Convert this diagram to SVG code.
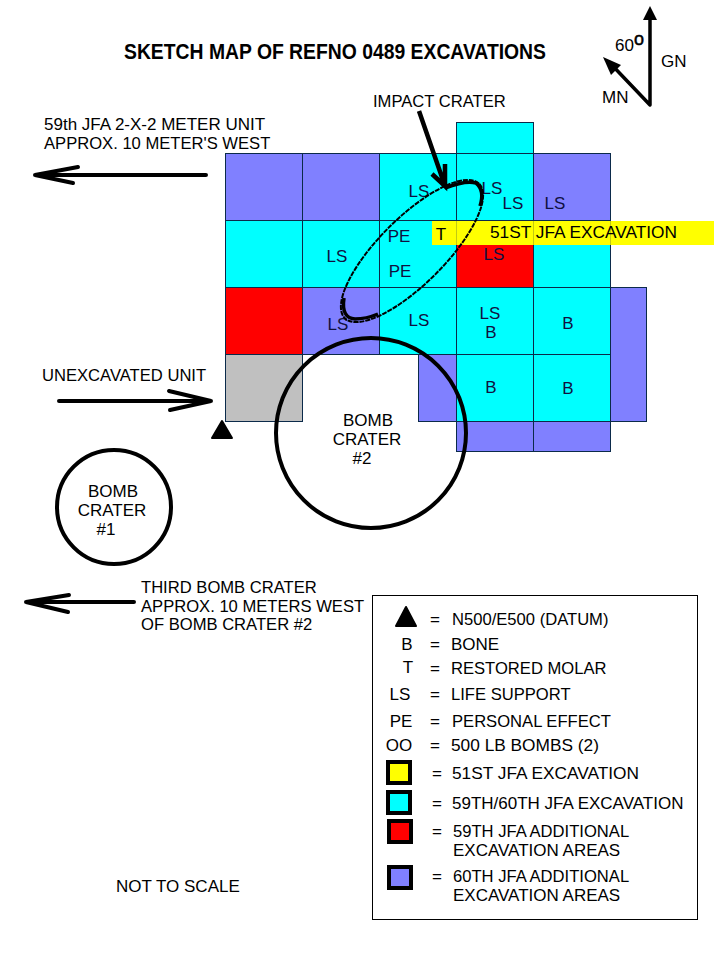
<svg xmlns="http://www.w3.org/2000/svg" width="720" height="960" viewBox="0 0 720 960">
<style>
text{font-family:"Liberation Sans",Arial,sans-serif;font-size:17px;fill:#000}
.m{text-anchor:middle}
.g{fill:#101040}
.n{font-size:16.600px}
.w{font-size:17.300px}
.c{fill:#00ffff}.r{fill:#ff0000}.p{fill:#8080ff}.y{fill:#ffff00}.s{fill:#c0c0c0}
.cell{stroke:#0b2a4a;stroke-width:1}
.line{fill:none;stroke:#000;stroke-width:4;stroke-linecap:round}
.ring{fill:none;stroke:#000;stroke-width:4}
.key{stroke:#000;stroke-width:4}
.tri{fill:#000;stroke:#000;stroke-width:2;stroke-linejoin:round}
</style>
<rect width="720" height="960" fill="#fff"/>
<text x="124" y="59" font-weight="bold" style="font-size:21.500px" textLength="422" lengthAdjust="spacingAndGlyphs">SKETCH MAP OF REFNO 0489 EXCAVATIONS</text>

<g id="grid">
<rect class="c cell" x="456.500" y="122.500" width="77" height="31"/>
<rect class="p cell" x="225.500" y="153.500" width="77" height="67"/>
<rect class="p cell" x="302.500" y="153.500" width="77" height="67"/>
<rect class="c cell" x="379.500" y="153.500" width="77" height="67"/>
<rect class="c cell" x="456.500" y="153.500" width="77" height="67"/>
<rect class="p cell" x="533.500" y="153.500" width="77" height="67"/>
<rect class="c cell" x="225.500" y="220.500" width="77" height="67"/>
<rect class="c cell" x="302.500" y="220.500" width="77" height="67"/>
<rect class="c cell" x="379.500" y="220.500" width="77" height="67"/>
<rect class="r cell" x="456.500" y="220.500" width="77" height="67"/>
<rect class="c cell" x="533.500" y="220.500" width="77" height="67"/>
<rect class="r cell" x="225.500" y="287.500" width="77" height="67"/>
<rect class="p cell" x="302.500" y="287.500" width="77" height="67"/>
<rect class="c cell" x="379.500" y="287.500" width="77" height="67"/>
<rect class="c cell" x="456.500" y="287.500" width="77" height="67"/>
<rect class="c cell" x="533.500" y="287.500" width="77" height="67"/>
<rect class="p cell" x="610.500" y="287.500" width="36" height="134"/>
<rect class="s cell" x="225.500" y="354.500" width="77" height="67"/>
<rect class="p cell" x="418.500" y="354.500" width="38" height="67"/>
<rect class="c cell" x="456.500" y="354.500" width="77" height="67"/>
<rect class="c cell" x="533.500" y="354.500" width="77" height="67"/>
<rect class="p cell" x="456.500" y="421.500" width="77" height="30"/>
<rect class="p cell" x="533.500" y="421.500" width="77" height="30"/>
</g>

<g id="jfa51">
<rect class="y" x="432" y="221" width="282" height="24"/>
<line x1="456.500" y1="221" x2="456.500" y2="245" stroke="#0b2a4a" stroke-opacity=".25"/>
<line x1="533.500" y1="221" x2="533.500" y2="245" stroke="#0b2a4a" stroke-opacity=".25"/>
<line x1="610.500" y1="221" x2="610.500" y2="245" stroke="#0b2a4a" stroke-opacity=".25"/>
<text class="m" x="441" y="240">T</text>
<text class="w" x="490" y="238">51ST JFA EXCAVATION</text>
</g>

<g id="cell-labels">
<text class="m g" x="419" y="197">LS</text>
<text class="m g" x="492" y="194">LS</text>
<text class="m g" x="513" y="209">LS</text>
<text class="m g" x="555" y="209">LS</text>
<text class="m g" x="337" y="262">LS</text>
<text class="m g" x="399" y="242">PE</text>
<text class="m g" x="400" y="277">PE</text>
<text class="m g" x="494" y="260">LS</text>
<text class="m g" x="338" y="330">LS</text>
<text class="m g" x="419" y="326">LS</text>
<text class="m g" x="490" y="319">LS</text>
<text class="m g" x="491" y="338">B</text>
<text class="m g" x="568" y="329">B</text>
<text class="m g" x="491" y="393">B</text>
<text class="m g" x="568" y="394">B</text>
</g>

<g id="impact-crater">
<ellipse cx="412" cy="251" rx="95" ry="33" transform="rotate(-45 412 251)" fill="none" stroke="#000" stroke-width="2" stroke-dasharray="5 1"/>
<path d="M445 188Q466 180 476 183Q485 190 480 206" fill="none" stroke="#000" stroke-width="3.500"/>
<path d="M344 298Q341 318 355 319Q366 319 378 314" fill="none" stroke="#000" stroke-width="3.500"/>
<text class="n" x="373" y="107">IMPACT CRATER</text>
<path d="M419 111L445 186M432 174L445 186L445 164" fill="none" stroke="#000" stroke-width="4.500"/>
</g>

<g id="bomb-crater-2">
<circle class="ring" cx="371" cy="433" r="95"/>
<text class="m" x="368" y="426">BOMB</text>
<text class="m" x="367" y="445">CRATER</text>
<text class="m" x="362" y="464">#2</text>
</g>

<g id="bomb-crater-1">
<circle class="ring" cx="114" cy="507" r="57"/>
<text class="m" x="113" y="497">BOMB</text>
<text class="m" x="112" y="516">CRATER</text>
<text class="m" x="106" y="535">#1</text>
</g>

<polygon id="datum" class="tri" points="222,421 232,438 212,438"/>

<g id="north">
<text x="615" y="51">60</text>
<text x="634" y="45" style="font-size:18px" stroke="#000" stroke-width=".5">o</text>
<text x="661" y="67">GN</text>
<text x="602" y="103">MN</text>
<path d="M650 105V15M650 105L609 62" fill="none" stroke="#000" stroke-width="3.500" stroke-linecap="round"/>
<polygon points="650,6 657,20 643,20" fill="#000"/>
<polygon points="603,57 621,65 611,75" fill="#000"/>
</g>

<g id="connectors">
<path class="line" d="M206 175H35M78 167L35 175L73 183"/>
<path class="line" d="M59 401H211M169 391L211 401L170 410"/>
<path class="line" d="M134 602H26M69 595L26 602L68 612"/>
</g>

<g id="notes">
<text x="44" y="130">59th JFA 2-X-2 METER UNIT</text>
<text class="n" x="44" y="149">APPROX. 10 METER'S WEST</text>
<text class="n" x="42" y="381">UNEXCAVATED UNIT</text>
<text class="n" x="141" y="593">THIRD BOMB CRATER</text>
<text class="n" x="141" y="612">APPROX. 10 METERS WEST</text>
<text class="n" x="141" y="630">OF BOMB CRATER #2</text>
<text x="116" y="892">NOT TO SCALE</text>
</g>

<g id="legend">
<rect x="372.500" y="595.500" width="325" height="324" fill="#fff" stroke="#000"/>
<polygon class="tri" points="406,607 416,626 396,626"/>
<text x="430" y="625">=</text><text class="n" x="452" y="625">N500/E500 (DATUM)</text>
<text class="m" x="407" y="650">B</text><text x="430" y="650">=</text><text x="451" y="650">BONE</text>
<text class="m" x="408" y="673">T</text><text x="430" y="674">=</text><text class="n" x="451" y="674">RESTORED MOLAR</text>
<text class="m" x="400" y="700">LS</text><text x="430" y="700">=</text><text class="n" x="451" y="700">LIFE SUPPORT</text>
<text class="m" x="401" y="727">PE</text><text x="430" y="727">=</text><text class="n" x="452" y="727">PERSONAL EFFECT</text>
<text class="m" x="399" y="751">OO</text><text x="430" y="751">=</text><text class="w" x="451" y="751">500 LB BOMBS (2)</text>
<rect class="y key" x="388" y="762" width="22" height="21"/>
<text x="432" y="779">=</text><text class="w" x="452" y="779">51ST JFA EXCAVATION</text>
<rect class="c key" x="388" y="792" width="22" height="21"/>
<text x="432" y="809">=</text><text x="452" y="809">59TH/60TH JFA EXCAVATION</text>
<rect class="r key" x="389" y="821" width="22" height="21"/>
<text x="432" y="837">=</text><text class="n" x="453" y="837">59TH JFA ADDITIONAL</text>
<text x="453" y="856">EXCAVATION AREAS</text>
<rect class="p key" x="389" y="867" width="22" height="21"/>
<text x="432" y="882">=</text><text class="n" x="453" y="882">60TH JFA ADDITIONAL</text>
<text x="453" y="901">EXCAVATION AREAS</text>
</g>
</svg>
